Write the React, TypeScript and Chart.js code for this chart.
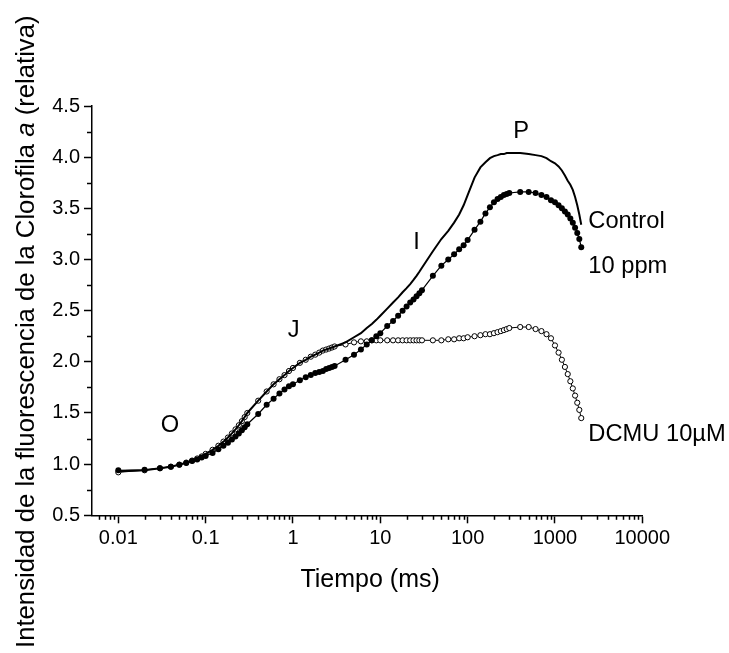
import React, { useEffect, useRef } from 'react';
import { Chart, registerables } from 'chart.js';

Chart.register(...registerables);

const FONT = "'Liberation Sans', Arial, Helvetica, sans-serif";

// Time axis (ms), shared by all three traces
const TIME_MS = [
  0.01, 0.02, 0.03, 0.04, 0.05, 0.06, 0.07, 0.08, 0.09,
  0.1, 0.12, 0.14, 0.16, 0.18, 0.2, 0.22, 0.24, 0.26, 0.28, 0.3,
  0.4, 0.5, 0.6, 0.7, 0.8, 0.9,
  1, 1.2, 1.4, 1.6, 1.8, 2, 2.2, 2.4, 2.6, 2.8, 3,
  4, 5, 6, 7, 8, 9,
  10, 12, 14, 16, 18, 20, 22, 24, 26, 28, 30,
  40, 50, 60, 70, 80, 90,
  100, 120, 140, 160, 180, 200, 220, 240, 260, 280, 300,
  400, 500, 600, 700, 800, 900, 1000, 1100, 1200, 1300, 1400, 1500, 1600, 1700, 1800, 1900, 2000,
];

const CONTROL = [
  0.93, 0.94, 0.96, 0.975, 0.995, 1.015, 1.035, 1.055, 1.075,
  1.1, 1.14, 1.18, 1.22, 1.26, 1.3, 1.34, 1.38, 1.42, 1.46, 1.5,
  1.62, 1.71, 1.78, 1.83, 1.87, 1.91,
  1.94, 1.99, 2.02, 2.05, 2.07, 2.09, 2.11, 2.12, 2.13, 2.14, 2.15,
  2.19, 2.24, 2.28, 2.33, 2.37, 2.41,
  2.45, 2.52, 2.58, 2.63, 2.68, 2.72, 2.76, 2.8, 2.84, 2.88, 2.92,
  3.08, 3.2, 3.28, 3.36, 3.44, 3.53,
  3.63, 3.8, 3.9, 3.95, 3.99, 4.01, 4.02, 4.03, 4.03, 4.04, 4.04,
  4.04, 4.03, 4.02, 4.01, 3.99, 3.96, 3.94, 3.91, 3.87, 3.82, 3.77, 3.73, 3.68, 3.61, 3.53, 3.44, 3.34,
];

const PPM_10 = [
  0.94, 0.945, 0.96, 0.975, 0.995, 1.01, 1.03, 1.045, 1.065,
  1.08, 1.11, 1.145, 1.18, 1.21, 1.24, 1.27, 1.3, 1.33, 1.36, 1.39,
  1.49, 1.58, 1.64, 1.69, 1.73, 1.76,
  1.78, 1.82, 1.85, 1.87, 1.89, 1.9, 1.91, 1.93, 1.94, 1.95, 1.96,
  2.02, 2.07, 2.12, 2.17, 2.21, 2.25,
  2.28, 2.35, 2.4, 2.45, 2.5, 2.54, 2.58, 2.61, 2.64, 2.67, 2.7,
  2.84, 2.94, 3.0, 3.05, 3.1, 3.14,
  3.19, 3.29, 3.37, 3.45, 3.51, 3.56, 3.59, 3.61, 3.63, 3.64, 3.65,
  3.66, 3.66, 3.65, 3.63, 3.61, 3.58, 3.56, 3.53, 3.5, 3.47, 3.44, 3.4, 3.36, 3.31, 3.26, 3.2, 3.12,
];

const DCMU_10UM = [
  0.92, 0.94, 0.96, 0.975, 0.995, 1.015, 1.035, 1.055, 1.075,
  1.1, 1.14, 1.18, 1.22, 1.26, 1.3, 1.34, 1.38, 1.42, 1.46, 1.5,
  1.62, 1.71, 1.78, 1.83, 1.87, 1.91,
  1.94, 1.99, 2.02, 2.05, 2.07, 2.09, 2.11, 2.12, 2.13, 2.14, 2.15,
  2.17, 2.19, 2.2, 2.2, 2.21, 2.21,
  2.21, 2.21, 2.21, 2.21, 2.21, 2.21, 2.21, 2.21, 2.21, 2.21, 2.21,
  2.21, 2.21, 2.22, 2.22, 2.23, 2.23,
  2.24, 2.25, 2.26, 2.27, 2.27, 2.28, 2.29, 2.3, 2.31, 2.32, 2.33,
  2.34, 2.34, 2.32, 2.3, 2.27, 2.23, 2.16, 2.09, 2.02, 1.95, 1.88, 1.81, 1.74, 1.67, 1.6, 1.53, 1.45,
];

const X_TICKS = [0.01, 0.1, 1, 10, 100, 1000, 10000];
const X_TICK_LABELS = ['0.01', '0.1', '1', '10', '100', '1000', '10000'];
const Y_MINOR_TICKS = [0.75, 1.25, 1.75, 2.25, 2.75, 3.25, 3.75, 4.25];

const PHASE_LABELS = [
  { text: 'O', x: 0.039, y: 1.38 },
  { text: 'J', x: 1.02, y: 2.31 },
  { text: 'I', x: 26, y: 3.17 },
  { text: 'P', x: 410, y: 4.25 },
];

const CURVE_LABELS = [
  { text: 'Control', x: 2410, y: 3.31 },
  { text: '10 ppm', x: 2410, y: 2.87 },
  { text: 'DCMU 10\u00b5M', x: 2410, y: 1.23 },
];

const X_TITLE = 'Tiempo (ms)';
const Y_TITLE_PARTS = [
  { text: 'Intensidad de la fluorescencia de la Clorofila ', italic: false },
  { text: 'a', italic: true },
  { text: ' (relativa)', italic: false },
];

const decorPlugin = {
  id: 'decor',
  afterDraw(chart: any) {
    const ctx: CanvasRenderingContext2D = chart.ctx;
    const xs = chart.scales.x;
    const ys = chart.scales.y;
    const area = chart.chartArea;
    ctx.save();
    ctx.strokeStyle = '#000';
    ctx.lineWidth = 1.5;
    // minor y ticks
    for (const v of Y_MINOR_TICKS) {
      const py = Math.round(ys.getPixelForValue(v)) + 0.5;
      ctx.beginPath();
      ctx.moveTo(area.left - 5, py);
      ctx.lineTo(area.left, py);
      ctx.stroke();
    }
    // minor x ticks (log)
    for (let e = -3; e <= 3; e++) {
      for (let k = 2; k <= 9; k++) {
        const v = k * Math.pow(10, e);
        if (v <= xs.min * 1.0001 || v >= xs.max) continue;
        const px = Math.round(xs.getPixelForValue(v)) + 0.5;
        ctx.beginPath();
        ctx.moveTo(px, area.bottom);
        ctx.lineTo(px, area.bottom + 4.5);
        ctx.stroke();
      }
    }
    ctx.fillStyle = '#000';
    // phase labels
    ctx.font = `23.7px ${FONT}`;
    ctx.textAlign = 'center';
    ctx.textBaseline = 'middle';
    for (const l of PHASE_LABELS) {
      ctx.fillText(l.text, xs.getPixelForValue(l.x), ys.getPixelForValue(l.y));
    }
    // curve labels
    ctx.textAlign = 'left';
    ctx.textBaseline = 'alphabetic';
    for (const l of CURVE_LABELS) {
      ctx.fillText(l.text, xs.getPixelForValue(l.x), ys.getPixelForValue(l.y));
    }
    // x title
    ctx.font = `25px ${FONT}`;
    ctx.textAlign = 'center';
    ctx.fillText(X_TITLE, (area.left + area.right) / 2 + 3, 587);
    // y title (rotated)
    ctx.translate(34, 648);
    ctx.rotate(-Math.PI / 2);
    ctx.textAlign = 'left';
    let cx = 0;
    for (const part of Y_TITLE_PARTS) {
      ctx.font = `${part.italic ? 'italic ' : ''}25.7px ${FONT}`;
      ctx.fillText(part.text, cx, 0);
      cx += ctx.measureText(part.text).width;
    }
    ctx.restore();
  },
};

export default function App() {
  const canvasRef = useRef<HTMLCanvasElement | null>(null);

  useEffect(() => {
    const canvas = canvasRef.current;
    if (!canvas) return;
    const toPts = (ys: number[]) => TIME_MS.map((t, i) => ({ x: t, y: ys[i] }));
    const axisGrid = {
      display: true,
      drawOnChartArea: false,
      drawTicks: true,
      tickLength: 8,
      tickColor: '#000',
      tickWidth: 1.5,
    };
    const axisBorder = { display: true, color: '#000', width: 1.5 };
    const chart = new Chart(canvas, {
      type: 'line',
      data: {
        datasets: [
          {
            label: 'Control',
            data: toPts(CONTROL),
            borderColor: '#000',
            borderWidth: 2,
            pointRadius: 0,
            tension: 0,
            fill: false,
          },
          {
            label: '10 ppm',
            data: toPts(PPM_10),
            borderColor: '#000',
            borderWidth: 1.2,
            pointRadius: 3,
            pointBackgroundColor: '#000',
            pointBorderColor: '#000',
            pointBorderWidth: 0,
            tension: 0,
            fill: false,
          },
          {
            label: 'DCMU 10µM',
            data: toPts(DCMU_10UM),
            borderColor: '#000',
            borderWidth: 1,
            pointRadius: 2.6,
            pointBackgroundColor: '#fff',
            pointBorderColor: '#000',
            pointBorderWidth: 1,
            tension: 0,
            fill: false,
          },
        ],
      } as any,
      options: {
        responsive: false,
        animation: false,
        events: [],
        layout: { padding: { left: 0, right: 86.7, top: 106, bottom: 0 } },
        plugins: { legend: { display: false }, tooltip: { enabled: false } },
        scales: {
          x: {
            type: 'logarithmic',
            min: 0.005,
            max: 10000,
            afterBuildTicks: (s: any) => {
              s.ticks = X_TICKS.map((v) => ({ value: v }));
            },
            afterFit: (s: any) => {
              s.height = 137.7;
            },
            ticks: {
              callback: (_v: any, i: number) => X_TICK_LABELS[i],
              font: { family: FONT, size: 20 },
              color: '#000',
              padding: 3,
              maxRotation: 0,
              autoSkip: false,
            },
            grid: axisGrid,
            border: axisBorder,
          },
          y: {
            type: 'linear',
            min: 0.5,
            max: 4.5,
            afterFit: (s: any) => {
              s.width = 92;
            },
            ticks: {
              stepSize: 0.5,
              callback: (v: any) => Number(v).toFixed(1),
              font: { family: FONT, size: 20 },
              color: '#000',
              padding: 4,
            },
            grid: axisGrid,
            border: axisBorder,
          },
        },
      } as any,
      plugins: [decorPlugin],
    });
    return () => chart.destroy();
  }, []);

  return (
    <div style={{ position: 'absolute', left: 0, top: 0, width: 729, height: 653, background: '#fff' }}>
      <canvas ref={canvasRef} width={729} height={653} style={{ display: 'block' }} />
    </div>
  );
}
